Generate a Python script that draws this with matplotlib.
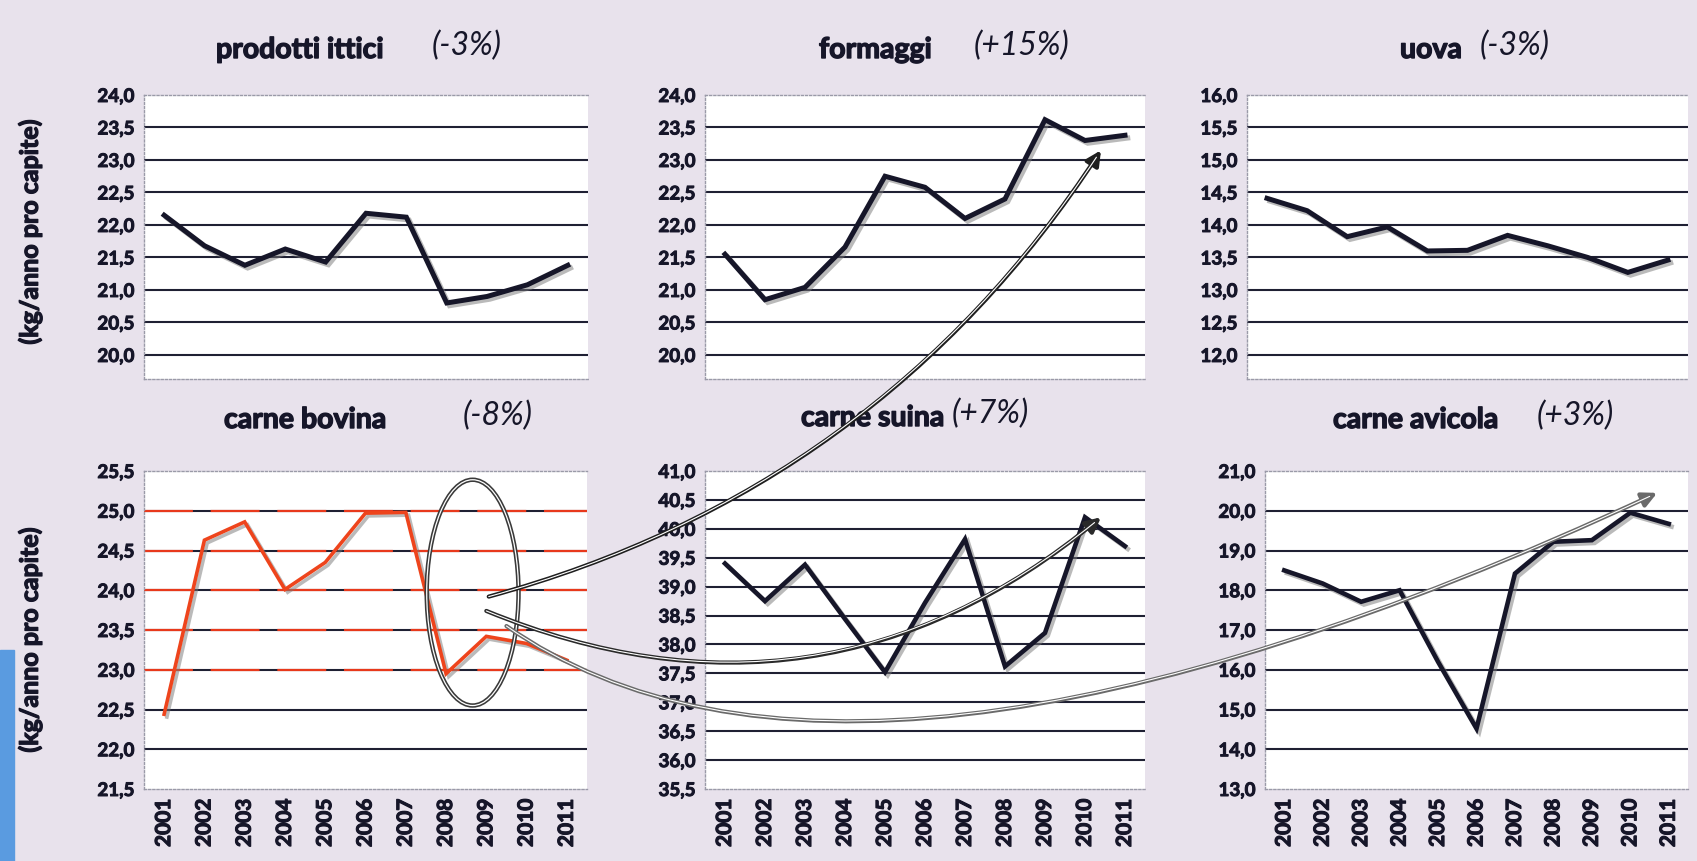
import numpy as np
import matplotlib
matplotlib.use("Agg")
import matplotlib.pyplot as plt
import matplotlib.patheffects as pe
from matplotlib.patches import ConnectionPatch, Ellipse, Rectangle

# dati (kg/anno pro capite)
anni = ["2001", "2002", "2003", "2004", "2005", "2006", "2007", "2008", "2009", "2010", "2011"]

ittici = [22.15, 21.68, 21.38, 21.63, 21.43, 22.18, 22.12, 20.80, 20.90, 21.08, 21.38]
formaggi = [21.55, 20.85, 21.04, 21.66, 22.75, 22.58, 22.10, 22.40, 23.62, 23.30, 23.38]
uova = [14.41, 14.22, 13.82, 13.97, 13.60, 13.61, 13.84, 13.68, 13.50, 13.27, 13.46]
bovina = [22.44, 24.63, 24.86, 24.01, 24.35, 24.97, 24.98, 22.95, 23.42, 23.33, 23.12]
suina = [39.40, 38.75, 39.38, 38.44, 37.52, 38.72, 39.82, 37.62, 38.20, 40.20, 39.70]
avicola = [18.50, 18.17, 17.71, 18.00, 16.20, 14.52, 18.42, 19.22, 19.26, 19.95, 19.67]

titoli = ["prodotti ittici", "formaggi", "uova", "carne bovina", "carne suina", "carne avicola"]
variazioni = ["(-3%)", "(+15%)", "(-3%)", "(-8%)", "(+7%)", "(+3%)"]

W, H = 1697, 861
SFONDO = "#e8e2ec"
GRIGLIA = "#1f2033"
SCURO = "#161629"


def grassetto(w):
    # ispessisce il testo come nella scansione
    return [pe.withStroke(linewidth=w, foreground=SCURO)]


plt.rcParams['font.family'] = ['Lato', 'DejaVu Sans']

fig = plt.figure(figsize=(W / 100, H / 100), dpi=100, facecolor=SFONDO)

# striscia blu sul bordo sinistro
fig.add_artist(Rectangle((0, 0), 14 / W, (H - 650) / H, transform=fig.transFigure,
                         color="#5a9be0", zorder=0))


def crea_asse(left, top, right, bottom):
    return fig.add_axes([left / W, 1 - bottom / H, (right - left) / W, (bottom - top) / H])


def pannello(ax, valori, ticks, ylim, colore, lw, anni_visibili, rosso=False):
    x = np.arange(len(anni))
    ax.set_facecolor("white")
    ax.set_xlim(-0.5, len(anni) - 0.5)
    ax.set_ylim(*ylim)
    for t in ticks:
        if ylim[0] + 1e-6 < t < ylim[1] - 1e-6:
            ax.axhline(t, color=GRIGLIA, lw=1.5, zorder=1)
            if rosso and 22.9 < t < 25.1:
                ax.axhline(t, color="#e8391c", lw=1.6, ls=(0, (22, 8)), zorder=1.5)
    ax.plot(x, valori, color=colore, lw=lw, solid_joinstyle="miter", zorder=3,
            path_effects=[pe.SimpleLineShadow(offset=(2, -2), shadow_color="#777777", alpha=0.5),
                          pe.Normal()])
    ax.set_yticks(ticks)
    etichette = ax.set_yticklabels([f"{t:.1f}".replace(".", ",") for t in ticks],
                                   fontweight="bold", fontsize=13.5, color=SCURO)
    for e in etichette:
        e.set_path_effects(grassetto(0.7))
    ax.set_xticks(x)
    if anni_visibili:
        etichette = ax.set_xticklabels(anni, rotation=90, fontweight="bold", fontsize=15,
                                       color=SCURO)
        for e in etichette:
            e.set_path_effects(grassetto(0.8))
    else:
        ax.set_xticklabels([])
    ax.tick_params(length=0, pad=7)
    for lato in ["left", "top", "bottom"]:
        ax.spines[lato].set_color("#9a9aa8")
        ax.spines[lato].set_linestyle((0, (1.5, 1.5)))
        ax.spines[lato].set_linewidth(1.0)
    ax.spines["right"].set_visible(False)


ax1 = crea_asse(144, 95, 588, 379)
ax2 = crea_asse(705, 95, 1145, 379)
ax3 = crea_asse(1247, 95, 1688, 379)
ax4 = crea_asse(144, 471, 587, 789)
ax5 = crea_asse(705, 471, 1145, 789)
ax6 = crea_asse(1265, 471, 1688, 789)

pannello(ax1, ittici, np.arange(20.0, 24.01, 0.5), (19.63, 24.0), SCURO, 3.6, False)
pannello(ax2, formaggi, np.arange(20.0, 24.01, 0.5), (19.63, 24.0), SCURO, 3.6, False)
pannello(ax3, uova, np.arange(12.0, 16.01, 0.5), (11.63, 16.0), SCURO, 3.6, False)
pannello(ax4, bovina, np.arange(21.5, 25.51, 0.5), (21.5, 25.5), "#ee441c", 2.6, True, rosso=True)
pannello(ax5, suina, np.arange(35.5, 41.01, 0.5), (35.5, 41.0), SCURO, 3.3, True)
pannello(ax6, avicola, np.arange(13.0, 21.01, 1.0), (13.0, 21.0), SCURO, 3.3, True)

# titoli dei pannelli
pos_titoli = [(216, 432, 50), (819, 974, 50), (1400, 1480, 50),
              (224, 463, 420), (801, 952, 418), (1333, 1537, 420)]
for (xb, xi, y), tit, var in zip(pos_titoli, titoli, variazioni):
    fig.text(xb / W, 1 - y / H, tit, ha="left", va="center", fontsize=20.5,
             fontweight="bold", color=SCURO, path_effects=grassetto(1.0))
    fig.text(xi / W, 1 - (y - 4) / H, var, ha="left", va="center", fontsize=23,
             style="italic", color=SCURO)

for y in [232, 640]:
    fig.text(30 / W, 1 - y / H, "(kg/anno pro capite)", rotation=90, ha="center",
             va="center", fontsize=18, fontweight="bold", color=SCURO,
             path_effects=grassetto(0.9))

# ellisse e frecce disegnate a mano sull'originale
for col, lw in [("#3a3a3a", 3.2), ("white", 0.9)]:
    ax4.add_patch(Ellipse((7.66, 23.97), 2.28, 2.84, fill=False, edgecolor=col, lw=lw,
                          clip_on=False, zorder=6))


def freccia(axA, xyA, axB, xyB, stile_curva, colore):
    for col, lw, stile in [(colore, 3.0, "-|>"), ("white", 0.8, "-")]:
        con = ConnectionPatch(xyA=xyA, coordsA=axA.transData, xyB=xyB, coordsB=axB.transData,
                              arrowstyle=stile, connectionstyle=stile_curva,
                              color=col, lw=lw, mutation_scale=22, zorder=10,
                              shrinkA=0, shrinkB=6 if col == "white" else 0)
        fig.add_artist(con)


freccia(ax4, (8.06, 23.92), ax2, (9.4, 23.15), "arc3,rad=0.19", "#1e1e1e")
freccia(ax4, (8.0, 23.74), ax5, (9.4, 40.2), "arc3,rad=0.3", "#2a2a2a")
freccia(ax4, (8.5, 23.55), ax6, (9.7, 20.45), "angle3,angleA=-35,angleB=25", "#6a6a6a")

fig.savefig("out.png", dpi=100, facecolor=SFONDO)
